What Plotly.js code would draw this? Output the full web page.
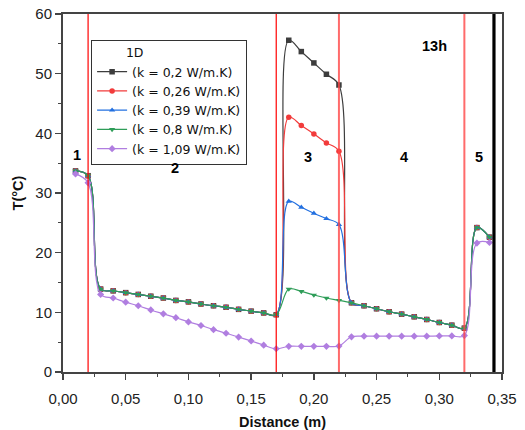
<!DOCTYPE html>
<html>
<head>
<meta charset="utf-8">
<script src="https://cdn.plot.ly/plotly-3.0.1.min.js"></script>
<style>
  html, body { margin: 0; padding: 0; background: #fff; }
  #chart { width: 525px; height: 430px; }
</style>
</head>
<body>
<div id="chart"></div>
<script>
// Distance along the wall section (m)
const distance = [0.01, 0.02, 0.03, 0.04, 0.05, 0.06, 0.07, 0.08, 0.09, 0.10,
                  0.11, 0.12, 0.13, 0.14, 0.15, 0.16, 0.17, 0.18, 0.19, 0.20,
                  0.21, 0.22, 0.23, 0.24, 0.25, 0.26, 0.27, 0.28, 0.29, 0.30,
                  0.31, 0.32, 0.33, 0.34];

// Temperature (°C) for each thermal conductivity of layer 3
const tK020 = [33.7, 32.9, 13.9, 13.6, 13.3, 13.0, 12.7, 12.4, 12.0, 11.75,
               11.4, 11.1, 10.85, 10.5, 10.2, 9.9, 9.6, 55.6, 53.7, 51.8,
               49.9, 48.1, 11.6, 11.1, 10.6, 10.1, 9.7, 9.25, 8.8, 8.3,
               7.85, 7.35, 24.2, 22.6];
const tK026 = [33.7, 32.9, 13.9, 13.6, 13.3, 13.0, 12.7, 12.4, 12.0, 11.75,
               11.4, 11.1, 10.85, 10.5, 10.2, 9.9, 9.6, 42.7, 41.3, 39.9,
               38.4, 37.0, 11.6, 11.1, 10.6, 10.1, 9.7, 9.25, 8.8, 8.3,
               7.85, 7.35, 24.2, 22.6];
const tK039 = [33.7, 32.9, 13.9, 13.6, 13.3, 13.0, 12.7, 12.4, 12.0, 11.75,
               11.4, 11.1, 10.85, 10.5, 10.2, 9.9, 9.6, 28.6, 27.6, 26.6,
               25.7, 24.7, 11.6, 11.1, 10.6, 10.1, 9.7, 9.25, 8.8, 8.3,
               7.85, 7.35, 24.2, 22.6];
const tK080 = [33.7, 32.9, 13.9, 13.6, 13.3, 13.0, 12.7, 12.4, 12.0, 11.75,
               11.4, 11.1, 10.85, 10.5, 10.2, 9.9, 9.6, 13.9, 13.5, 12.9,
               12.4, 12.0, 11.6, 11.1, 10.6, 10.1, 9.7, 9.25, 8.8, 8.3,
               7.85, 7.35, 24.2, 22.6];
const tK109 = [33.2, 31.7, 13.0, 12.4, 11.7, 11.1, 10.4, 9.75, 9.1, 8.4,
               7.8, 7.1, 6.5, 5.85, 5.2, 4.5, 3.9, 4.3, 4.3, 4.3,
               4.3, 4.35, 5.9, 6.0, 6.0, 6.0, 6.0, 6.0, 6.0, 6.05,
               6.05, 6.1, 21.6, 21.7];

const seriesNames = ['(k = 0,2 W/m.K)', '(k = 0,26 W/m.K)', '(k = 0,39 W/m.K)',
                     '(k = 0,8 W/m.K)', '(k = 1,09 W/m.K)'];

// Layer boundaries and outer wall face (m)
const layerBounds = [0.02, 0.17, 0.22, 0.32];
const wallFace = 0.3436;

// Layer numbers and time label
const zoneLabels = ['1', '2', '3', '4', '5'];
const zoneLabelX = [0.0115, 0.089, 0.195, 0.2715, 0.3315];
const zoneLabelY = [36.3, 34.2, 36.0, 36.0, 36.0];
const timeLabel = '13h';
const timeLabelX = 0.296;
const timeLabelY = 54.6;

const colors = ['#3d3d3d', '#f23b3b', '#2370e0', '#2e9d58', '#b07ee0'];
const symbols = ['square', 'circle', 'triangle-up', 'triangle-down', 'diamond'];
const values = [tK020, tK026, tK039, tK080, tK109];

const traces = values.map((ys, i) => ({
  x: distance,
  y: ys,
  name: seriesNames[i],
  type: 'scatter',
  mode: 'lines+markers',
  line: { color: colors[i], width: 1.2, shape: 'spline', smoothing: 1 },
  marker: { color: colors[i], symbol: symbols[i], size: 5.5 },
  cliponaxis: true
}));

const lineShapes = layerBounds.map((xv, i) => ({
  type: 'line', xref: 'x', yref: 'paper', x0: xv, x1: xv, y0: 0, y1: 1,
  line: i < 2 ? { color: '#ff0000', width: 1.2 } : { color: 'rgba(255,70,70,0.8)', width: 2 },
  layer: 'above'
}));
lineShapes.push({
  type: 'line', xref: 'x', yref: 'paper', x0: wallFace, x1: wallFace, y0: 0, y1: 1,
  line: { color: '#000', width: 3.2 }, layer: 'above'
});

const labelFont = { family: 'Liberation Sans, Arial, sans-serif', size: 14.5, color: '#000' };
const annotations = zoneLabels.map((t, i) => ({
  x: zoneLabelX[i], y: zoneLabelY[i], xref: 'x', yref: 'y',
  text: '<b>' + t + '</b>', showarrow: false, font: labelFont
}));
annotations.push({
  x: timeLabelX, y: timeLabelY, xref: 'x', yref: 'y',
  text: '<b>' + timeLabel + '</b>', showarrow: false, font: labelFont
});

const legendFont = { family: 'DejaVu Sans, sans-serif', size: 12.5, color: '#111' };

const layout = {
  width: 525, height: 430,
  margin: { l: 63, r: 23, t: 14, b: 58 },
  paper_bgcolor: '#fff', plot_bgcolor: '#fff',
  separators: ', ',
  font: { family: 'Liberation Sans, Arial, sans-serif', size: 15, color: '#222' },
  showlegend: true,
  legend: {
    x: 0.064, y: 0.928, xanchor: 'left', yanchor: 'top',
    bgcolor: '#fff', bordercolor: '#333', borderwidth: 1,
    font: legendFont,
    title: { text: '        1D', font: legendFont, side: 'top' },
    tracegroupgap: 0, itemwidth: 30
  },
  xaxis: {
    range: [0, 0.35], dtick: 0.05, tick0: 0, tickformat: '.2f',
    showgrid: false, zeroline: false,
    showline: true, linecolor: '#444', linewidth: 2, mirror: true,
    ticks: 'outside', ticklen: 6, tickwidth: 1.5, tickcolor: '#444',
    ticklabelstandoff: 6,
    minor: { dtick: 0.025, ticks: 'outside', ticklen: 3, tickwidth: 1, tickcolor: '#444' },
    title: { text: '<b>Distance (m)</b>', font: { size: 14.5, color: '#111' }, standoff: 12 }
  },
  yaxis: {
    range: [0, 60], dtick: 10, tick0: 0,
    showgrid: false, zeroline: false,
    showline: true, linecolor: '#444', linewidth: 2, mirror: true,
    ticks: 'outside', ticklen: 6, tickwidth: 1.5, tickcolor: '#444',
    minor: { dtick: 5, ticks: 'outside', ticklen: 3, tickwidth: 1, tickcolor: '#444' },
    title: { text: '<b>T(°C)</b>', font: { size: 14.5, color: '#111' }, standoff: 8 }
  },
  shapes: lineShapes,
  annotations: annotations
};

Plotly.newPlot('chart', traces, layout, { displayModeBar: false, staticPlot: true });
</script>
</body>
</html>
